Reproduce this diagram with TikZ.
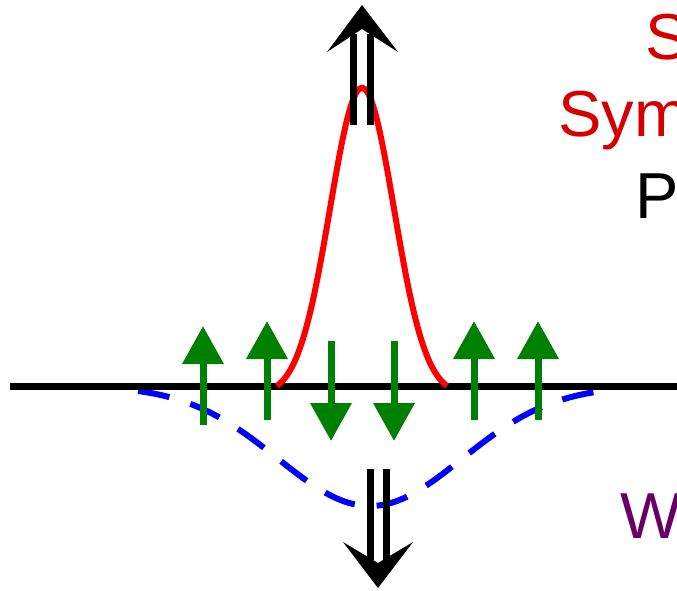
\documentclass[tikz,border=0pt]{standalone}
\usepackage{fontspec}
\setmainfont{Liberation Sans}
\usetikzlibrary{arrows.meta}

\definecolor{labelred}{RGB}{212,0,0}
\definecolor{labelpurple}{RGB}{102,0,102}
\definecolor{spingreen}{RGB}{0,128,0}

\begin{document}
\begin{tikzpicture}[x=1pt, y=-1pt,
    axis/.style={black, line width=7pt},
    peak/.style={red, line width=6pt},
    dip/.style={blue, line width=6pt, dash pattern=on 32pt off 22pt},
    spin/.style={spingreen, line width=7pt, -{Triangle[length=38pt, width=40pt]}},
    shaft/.style={black, line width=7pt},
    word/.style={anchor=base west, inner sep=0pt, font=\fontsize{65}{78}\selectfont}]

  \useasboundingbox (0,0) rectangle (677,590);
  \clip (0,0) rectangle (677,590);

  % broad dip below the line
  \draw[dip] plot[domain=-232:232, samples=120] ({370+\x}, {386+120*exp(-0.5*(\x/92)^2)});

  % the line
  \coordinate (axis west) at (10,386);
  \coordinate (axis east) at (690,386);
  \draw[axis] (axis west) -- (axis east);

  % narrow peak above the line
  \draw[peak] plot[domain=-85:85, samples=100] ({362+\x}, {386-307*(exp(-0.5*(\x/32)^2)-0.029)});

  % spins
  \foreach \i/\x/\ya/\yb in {1/203/425/326, 2/267/420/321, 3/474/420/321, 4/538/420/321} {
    \coordinate (up\i tail) at (\x,\ya);
    \coordinate (up\i tip) at (\x,\yb);
    \draw[spin] (up\i tail) -- (up\i tip);
  }
  \foreach \i/\x in {1/331, 2/394} {
    \coordinate (down\i tail) at (\x,341);
    \coordinate (down\i tip) at (\x,441);
    \draw[spin] (down\i tail) -- (down\i tip);
  }

  % double arrow up
  \coordinate (uptip) at (362,5);
  \draw[shaft] (353,125) -- (353,34);
  \draw[shaft] (370,125) -- (370,34);
  \fill (uptip) -- ++(36,47) -- ++(-36,-23) -- ++(-35,23) -- cycle;

  % double arrow down
  \coordinate (downtip) at (378,588);
  \draw[shaft] (370,469) -- (370,560);
  \draw[shaft] (386,469) -- (386,560);
  \fill (downtip) -- ++(35,-46) -- ++(-35,21) -- ++(-35,-21) -- cycle;

  % labels
  \node[word, labelred] (top) at (645,59) {S};
  \node[word, labelred] (sym) at (558,136) {Sym};
  \node[word, black] (pee) at (635,218) {P};
  \node[word, labelpurple] (dbl) at (620,538) {W};

\end{tikzpicture}
\end{document}
